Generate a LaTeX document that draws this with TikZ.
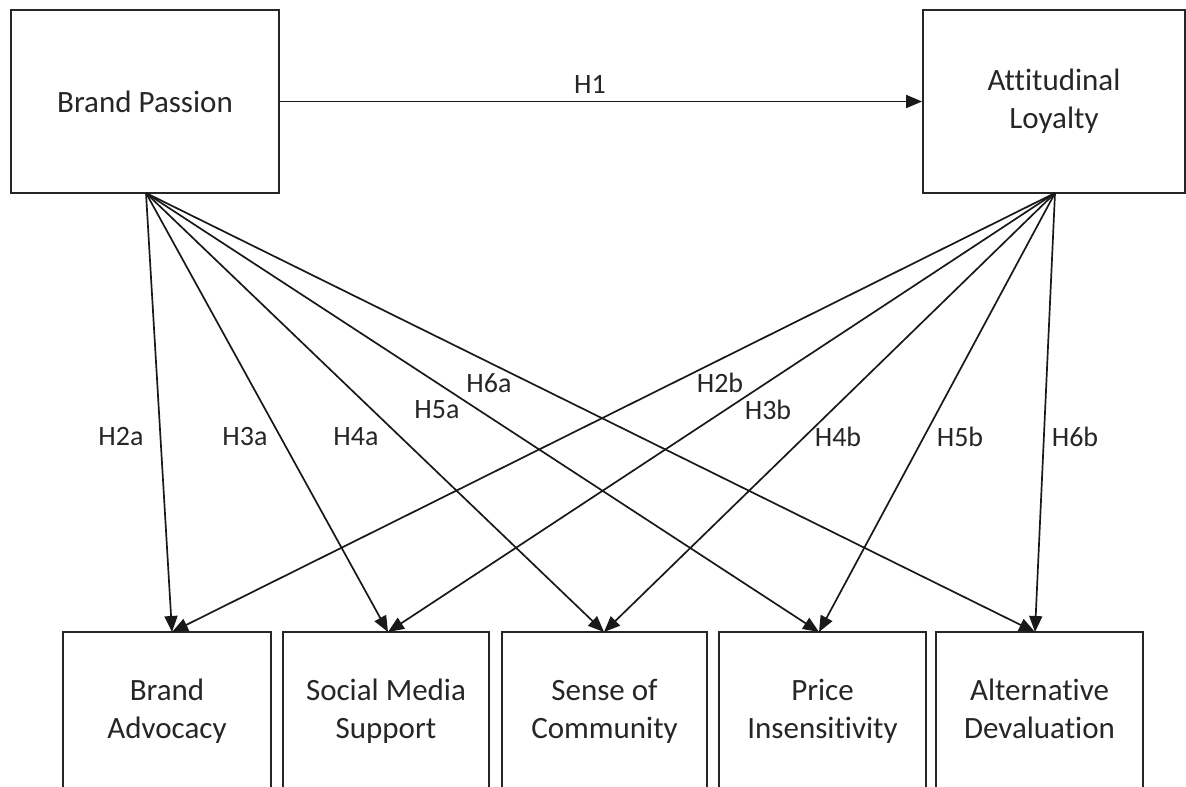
\documentclass[tikz,border=0pt]{standalone}
\usepackage{fontspec}
\setmainfont{Carlito}[Ligatures=NoCommon]
\usetikzlibrary{arrows.meta}
\begin{document}
\begin{tikzpicture}[x=1pt,y=-1pt,
  box/.style={draw=black!85,line width=1.8pt,align=center,font=\fontsize{31}{38}\selectfont,text=black!85,inner sep=0pt},
  conn/.style={draw=black!90,line width=1.7pt,-{Triangle[length=16pt,width=13pt]}},
  lab/.style={font=\fontsize{28}{32}\selectfont,text=black!85}]
\useasboundingbox (0,0) rectangle (1186,787);
\clip (0,0) rectangle (1186,787);
\node[box,minimum width=268pt,minimum height=183pt] (bp) at (145,101.5) {Brand Passion};
\node[box,minimum width=262pt,minimum height=183pt] (al) at (1054,101.5) {Attitudinal\\Loyalty};
\node[box,minimum width=208pt,minimum height=158pt] (ba) at (167,711) {Brand\\Advocacy};
\node[box,minimum width=206pt,minimum height=158pt] (sm) at (386,711) {Social Media\\Support};
\node[box,minimum width=205pt,minimum height=158pt] (sc) at (604.5,711) {Sense of\\Community};
\node[box,minimum width=207pt,minimum height=158pt] (pi) at (822.5,711) {Price\\Insensitivity};
\node[box,minimum width=207pt,minimum height=158pt] (ad) at (1039.5,711) {Alternative\\Devaluation\vphantom{y}};
\coordinate (bpo) at (146,193);
\coordinate (alo) at (1055,193);
\coordinate (tba) at (172,632);
\coordinate (tsm) at (388,632);
\coordinate (tsc) at (604,632);
\coordinate (tpi) at (819,632);
\coordinate (tad) at (1035,632);
\draw[conn] (bp.east) -- (al.west);
\foreach \t in {tba,tsm,tsc,tpi,tad}{
  \draw[conn] (bpo) -- (\t);
  \draw[conn] (alo) -- (\t);
}
\node[lab] (h1) at (590,84) {H1};
\node[lab] (h2a) at (121,437) {H2a};
\node[lab] (h3a) at (245,437) {H3a};
\node[lab] (h4a) at (356,437) {H4a};
\node[lab] (h5a) at (437,410) {H5a};
\node[lab] (h6a) at (489,383) {H6a};
\node[lab] (h2b) at (720,383) {H2b};
\node[lab] (h3b) at (768,410) {H3b};
\node[lab] (h4b) at (838,437) {H4b};
\node[lab] (h5b) at (960,437) {H5b};
\node[lab] (h6b) at (1075,437) {H6b};
\end{tikzpicture}
\end{document}
